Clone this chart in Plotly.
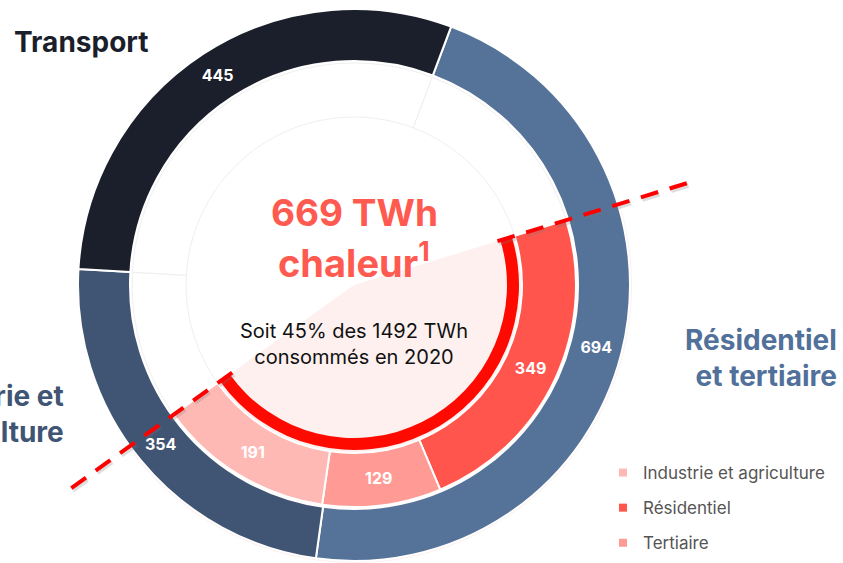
import numpy as np
import plotly.graph_objects as go

# ---------------- data ----------------
outer_labels = ["Résidentiel et tertiaire", "Industrie et agriculture", "Transport"]
outer_values = [694, 354, 445]
outer_colors = ["#557399", "#405473", "#1b1f2b"]

inner_labels = ["Résidentiel", "Tertiaire", "Industrie et agriculture"]
inner_values = [349, 129, 191]
inner_colors = ["#ff554d", "#ff9a94", "#ffb9b5"]

legend_labels = ["Industrie et agriculture", "Résidentiel", "Tertiaire"]
legend_colors = ["#ffb9b5", "#ff554d", "#ff9a94"]

total = sum(outer_values)
heat = sum(inner_values)
rest = total - heat

# ---------------- geometry (layout only) ----------------
W, H = 843, 563
CX, CY = 354, 285
R_OUT = 276
R_OUT_IN = 224
R_IN = 222
R_IN_IN = 168
R_BAND = 165
R_BAND_IN = 153
R_PINK = 278
ROT_OUT = 20.6
ROT_IN = 73.0
FONT = "Inter"


def domain(r):
    y0 = max(0.0, (H - CY - r) / H)
    y1 = min(1.0, (H - CY + r) / H)
    return dict(x=[(CX - r) / W, (CX + r) / W], y=[y0, y1])


fig = go.Figure()

# light pink sector behind the heat portion
fig.add_trace(go.Pie(
    values=[heat, rest], labels=["a", "b"], sort=False, direction="clockwise",
    rotation=ROT_IN, domain=domain(R_PINK), hole=0,
    marker=dict(colors=["#fdf0ef", "rgba(0,0,0,0)"], line=dict(width=0)),
    textinfo="none", hoverinfo="skip", showlegend=False))

# ghost ring (faint boundaries)
fig.add_trace(go.Pie(
    values=outer_values, labels=[l + " " for l in outer_labels], sort=False,
    direction="clockwise", rotation=ROT_OUT, domain=domain(R_IN),
    hole=R_IN_IN / R_IN,
    marker=dict(colors=["#ffffff"] * 3, line=dict(color="#efefef", width=1)),
    textinfo="none", hoverinfo="skip", showlegend=False))

# outer ring
fig.add_trace(go.Pie(
    values=outer_values, labels=outer_labels, sort=False, direction="clockwise",
    rotation=ROT_OUT, domain=domain(R_OUT), hole=R_OUT_IN / R_OUT,
    marker=dict(colors=outer_colors, line=dict(color="#ffffff", width=2)),
    texttemplate="<b>%{value}</b>", textposition="inside",
    insidetextorientation="horizontal",
    textfont=dict(family=FONT, size=16, color="#ffffff"),
    showlegend=False))

# inner ring (heat)
fig.add_trace(go.Pie(
    values=inner_values + [rest], labels=inner_labels + [""], sort=False,
    direction="clockwise", rotation=ROT_IN, domain=domain(R_IN),
    hole=R_IN_IN / R_IN,
    marker=dict(colors=inner_colors + ["rgba(0,0,0,0)"],
                line=dict(color="#ffffff", width=[2, 2, 2, 0])),
    texttemplate=["<b>%{value}</b>"] * 3 + [""], textposition="inside",
    insidetextorientation="horizontal",
    textfont=dict(family=FONT, size=16, color="#ffffff"),
    showlegend=False))

# thick red band
fig.add_trace(go.Pie(
    values=[heat, rest], labels=["x", "y"], sort=False, direction="clockwise",
    rotation=ROT_IN, domain=domain(R_BAND), hole=R_BAND_IN / R_BAND,
    marker=dict(colors=["#ff0a00", "rgba(0,0,0,0)"], line=dict(width=0)),
    textinfo="none", hoverinfo="skip", showlegend=False))

# legend entries
for lab, col in zip(legend_labels, legend_colors):
    fig.add_trace(go.Scatter(
        x=[None], y=[None], mode="markers", name=lab, legendgroup=lab,
        marker=dict(symbol="square", size=8, color=col), showlegend=True))

# dashed radial lines at start / end of heat portion
a0 = np.deg2rad(90 - ROT_IN)
a1 = a0 - 2 * np.pi * heat / total
shapes = []
for a in (a0, a1):
    r1, r2 = 150, 350
    x1, y1 = CX + r1 * np.cos(a), CY - r1 * np.sin(a)
    x2, y2 = CX + r2 * np.cos(a), CY - r2 * np.sin(a)
    # soft grey shadow under the dashes
    shapes.append(dict(type="line", xref="paper", yref="paper",
                       x0=(x1 + 1.5) / W, y0=1 - (y1 + 2) / H,
                       x1=(x2 + 1.5) / W, y1=1 - (y2 + 2) / H,
                       line=dict(color="rgba(120,120,120,0.25)", width=5,
                                 dash="18px,12px")))
    shapes.append(dict(type="line", xref="paper", yref="paper",
                       x0=x1 / W, y0=1 - y1 / H, x1=x2 / W, y1=1 - y2 / H,
                       line=dict(color="#ff0000", width=4, dash="18px,12px")))


def ann(text, x, y, size, color, xanchor="center", align="center"):
    return dict(text=text, x=x / W, y=1 - y / H, xref="paper", yref="paper",
                xanchor=xanchor, yanchor="middle", align=align, showarrow=False,
                font=dict(family=FONT, size=size, color=color))


annotations = [
    ann("<b>669 TWh</b>", CX, 212, 37, "#ff5a50"),
    ann("<b>chaleur<sup>1</sup></b>", CX, 260, 38, "#ff5a50"),
    ann("Soit 45% des 1492 TWh<br>consommés en 2020", CX, 344, 20, "#111111"),
    ann("<b>Transport</b>", 12, 42, 28, "#1b1f2b", xanchor="left", align="left"),
    ann("<b>Résidentiel<br>et tertiaire</b>", 839, 358, 28, "#51709a",
        xanchor="right", align="right"),
    ann("<b>Industrie et<br>agriculture</b>", 66, 414, 28, "#405473",
        xanchor="right", align="right"),
]

fig.update_layout(
    width=W, height=H, margin=dict(l=0, r=0, t=0, b=0),
    paper_bgcolor="#ffffff", plot_bgcolor="rgba(0,0,0,0)",
    xaxis=dict(visible=False), yaxis=dict(visible=False),
    shapes=shapes, annotations=annotations,
    legend=dict(x=603 / W, y=1 - 455 / H, xanchor="left", yanchor="top",
                traceorder="grouped", tracegroupgap=10,
                font=dict(family=FONT, size=17, color="#555555"),
                bgcolor="rgba(0,0,0,0)"),
)

fig.write_html("out.html", config={"displayModeBar": False},
               post_script="document.body.style.margin='0px';")
